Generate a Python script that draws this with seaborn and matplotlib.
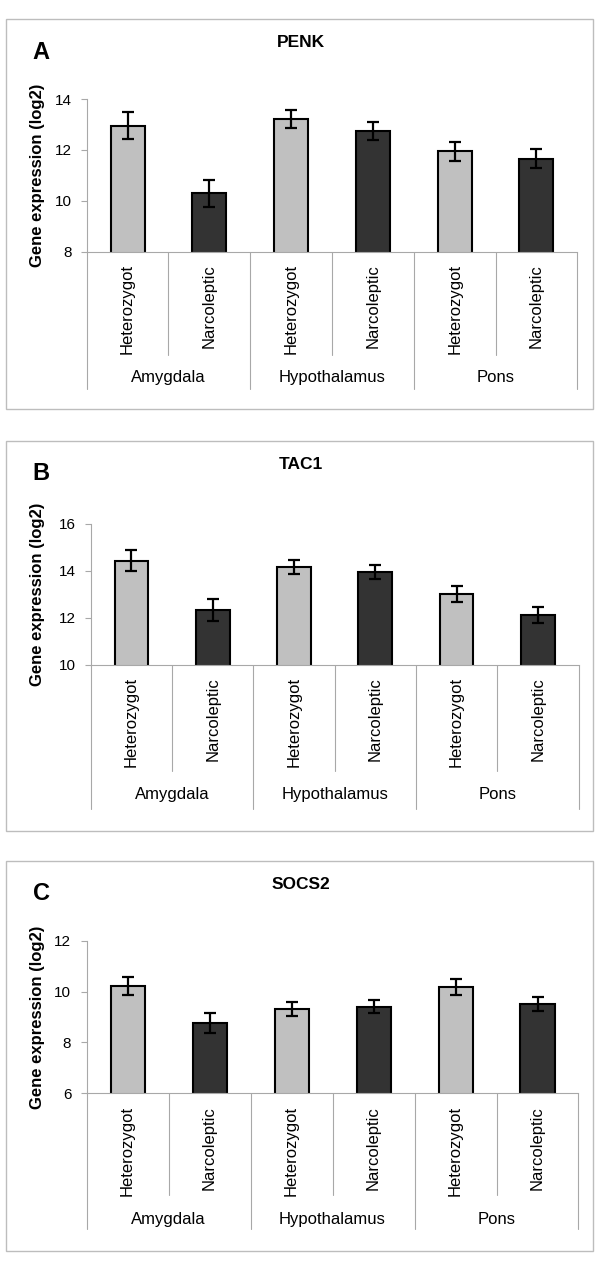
import matplotlib
matplotlib.use("Agg")
import matplotlib.pyplot as plt
import matplotlib.transforms as mtransforms
from matplotlib.patches import Rectangle
import seaborn as sns
import pandas as pd

# Data
regions = ["Amygdala", "Amygdala", "Hypothalamus", "Hypothalamus", "Pons", "Pons"]
genotypes = ["Heterozygot", "Narcoleptic"] * 3
region_names = ["Amygdala", "Hypothalamus", "Pons"]

penk_mean = [12.95, 10.30, 13.21, 12.73, 11.95, 11.66]
penk_err = [0.52, 0.53, 0.36, 0.35, 0.37, 0.39]
tac1_mean = [14.42, 12.33, 14.16, 13.95, 13.00, 12.13]
tac1_err = [0.45, 0.45, 0.31, 0.30, 0.33, 0.34]
socs2_mean = [10.22, 8.77, 9.31, 9.40, 10.19, 9.51]
socs2_err = [0.37, 0.38, 0.28, 0.26, 0.32, 0.28]

panel_letters = ["A", "B", "C"]
gene_names = ["PENK", "TAC1", "SOCS2"]
y_ticks = [[8, 10, 12, 14], [10, 12, 14, 16], [6, 8, 10, 12]]

W, H = 600, 1276
sns.set_style("white")
plt.rcParams["font.family"] = ["Liberation Sans", "DejaVu Sans"]
plt.rcParams["text.color"] = "black"
plt.rcParams["xtick.color"] = "black"
plt.rcParams["ytick.color"] = "black"

fig = plt.figure(figsize=(W / 100, H / 100), dpi=100)

# layout in pixels: (axes left, right, top, bottom, box top, label/sep/within offsets)
layout = [
    (86.7, 577.3, 99.0, 251.7, 19.3, 126, 137, 103),
    (90.8, 578.5, 523.7, 664.8, 440.7, 130, 144, 106),
    (86.6, 578.5, 940.7, 1093.3, 860.7, 126, 136, 102),
]
palette = {"Heterozygot": "#C0C0C0", "Narcoleptic": "#333333"}
line_col = "#A8A8A8"


def draw_panel(means, errs, ticks, letter, gene, lay):
    left, right, top, bottom, box_top, lab_off, sep_off, in_off = lay
    ax = fig.add_axes([left / W, 1 - bottom / H, (right - left) / W, (bottom - top) / H])

    df = pd.DataFrame({
        "cond": [r + "|" + g for r, g in zip(regions, genotypes)],
        "genotype": genotypes,
        "value": means,
    })
    sns.barplot(data=df, x="cond", y="value", hue="genotype", palette=palette,
                dodge=False, width=0.415, edgecolor="black", linewidth=1.5,
                legend=False, ax=ax)
    ax.errorbar(x=list(range(len(means))), y=means, yerr=errs, fmt="none",
                ecolor="black", elinewidth=1.6, capsize=4.3, capthick=1.6, zorder=3)

    ax.set_xlim(-0.5, len(means) - 0.5)
    ax.set_ylim(ticks[0], ticks[-1])
    ax.set_yticks(ticks)
    ax.set_yticklabels([str(t) for t in ticks], fontsize=11)
    ax.set_xticks(range(len(means)))
    ax.set_xticklabels(genotypes, rotation=90, fontsize=12)
    ax.tick_params(axis="x", length=0, pad=9)
    ax.tick_params(axis="y", length=4, width=0.8, color=line_col, pad=7, left=True)
    ax.set_xlabel("")
    ax.set_ylabel("")
    for s in ["top", "right"]:
        ax.spines[s].set_visible(False)
    for s in ["left", "bottom"]:
        ax.spines[s].set_color(line_col)
        ax.spines[s].set_linewidth(0.8)

    # category separators below the axis
    ax_h = bottom - top
    trans = mtransforms.blended_transform_factory(ax.transData, ax.transAxes)
    for xs in [-0.5, 1.5, 3.5, 5.5]:
        ax.plot([xs, xs], [0, -sep_off / ax_h], color=line_col, lw=0.8,
                transform=trans, clip_on=False)
    for xs in [0.5, 2.5, 4.5]:
        ax.plot([xs, xs], [0, -in_off / ax_h], color=line_col, lw=0.8,
                transform=trans, clip_on=False)
    for i, name in enumerate(region_names):
        ax.text(2 * i + 0.5, -lab_off / ax_h, name, transform=trans,
                ha="center", va="center", fontsize=12)

    # y label, title, panel letter, frame
    fig.text(38 / W, 1 - (top + bottom) / 2 / H, "Gene expression (log2)",
             rotation=90, ha="center", va="center", fontsize=12, fontweight="bold")
    fig.text(301 / W, 1 - (box_top + 23.5) / H, gene, ha="center", va="center",
             fontsize=12.5, fontweight="bold")
    fig.text(41 / W, 1 - (box_top + 33) / H, letter, ha="center", va="center",
             fontsize=17, fontweight="bold")
    fig.patches.append(Rectangle((6.3 / W, 1 - (box_top + 390) / H), 587 / W, 390 / H,
                                 transform=fig.transFigure, fill=False,
                                 edgecolor="#BDBDBD", lw=1))


draw_panel(penk_mean, penk_err, y_ticks[0], panel_letters[0], gene_names[0], layout[0])
draw_panel(tac1_mean, tac1_err, y_ticks[1], panel_letters[1], gene_names[1], layout[1])
draw_panel(socs2_mean, socs2_err, y_ticks[2], panel_letters[2], gene_names[2], layout[2])

fig.savefig("out.png", dpi=100, facecolor="white")
